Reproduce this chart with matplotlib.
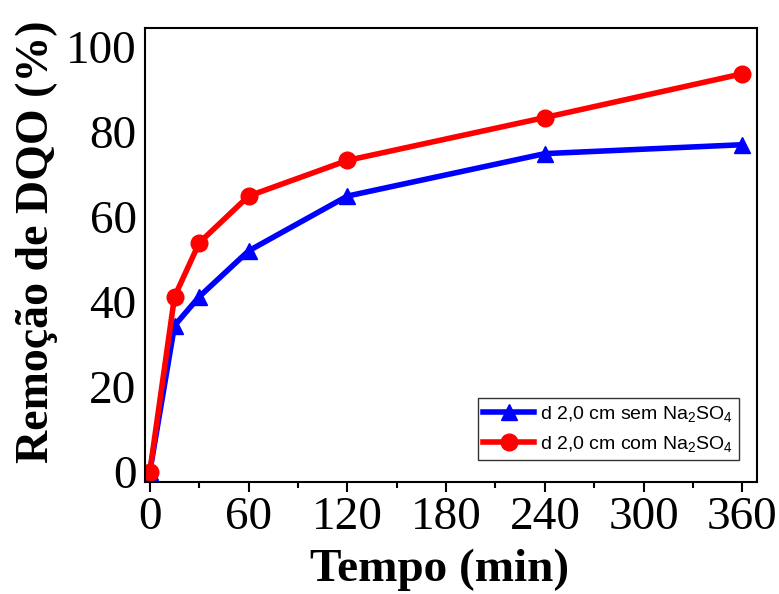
import matplotlib.pyplot as plt
from matplotlib.ticker import MultipleLocator

tempo = [0, 15, 30, 60, 120, 240, 360]
sem_na2so4 = [0, 34.4, 41.2, 52.0, 64.9, 74.9, 77.0]
com_na2so4 = [0, 41.2, 53.9, 64.9, 73.3, 83.4, 93.7]

plt.rcParams['font.family'] = ['Liberation Serif', 'DejaVu Serif']
plt.rcParams['mathtext.fontset'] = 'custom'
plt.rcParams['mathtext.rm'] = 'Liberation Sans'
plt.rcParams['mathtext.it'] = 'Liberation Sans:italic'

fig = plt.figure(figsize=(7.79, 5.94), dpi=100)
ax = fig.add_axes([0.186, 0.188, 0.786, 0.765])

ax.plot(tempo, sem_na2so4, color='#0000ff', lw=4, marker='^', markersize=12,
        label='d 2,0 cm sem Na$_2$SO$_4$')
ax.plot(tempo, com_na2so4, color='#ff0000', lw=4, marker='o', markersize=12,
        label='d 2,0 cm com Na$_2$SO$_4$')

ax.set_xlim(-3, 369)
ax.set_ylim(-2.5, 104.5)
ax.xaxis.set_major_locator(MultipleLocator(60))
ax.xaxis.set_minor_locator(MultipleLocator(30))
ax.yaxis.set_major_locator(MultipleLocator(20))
ax.tick_params(axis='x', which='major', direction='out', length=7, width=1.5, labelsize=34, pad=3)
ax.tick_params(axis='x', which='minor', direction='out', length=4, width=1.5)
ax.tick_params(axis='y', which='both', length=0, labelsize=34, pad=6)
for s in ax.spines.values():
    s.set_linewidth(1.5)

ax.set_xlabel('Tempo (min)', fontsize=34, fontweight='bold', labelpad=7)
ax.set_ylabel('Remoção de DQO (%)', fontsize=33, fontweight='bold', labelpad=6)
ax.xaxis.label.set_x(0.482)
ax.yaxis.label.set_y(0.53)

leg = ax.legend(loc='lower right', bbox_to_anchor=(0.97, 0.05),
                prop={'family': 'Liberation Sans', 'size': 14},
                frameon=True, fancybox=False, edgecolor='black', handlelength=2.6,
                borderpad=0.3, labelspacing=0.5, handletextpad=0.3, borderaxespad=0)
leg.get_frame().set_linewidth(1.0)

fig.savefig('out.png', dpi=100)
